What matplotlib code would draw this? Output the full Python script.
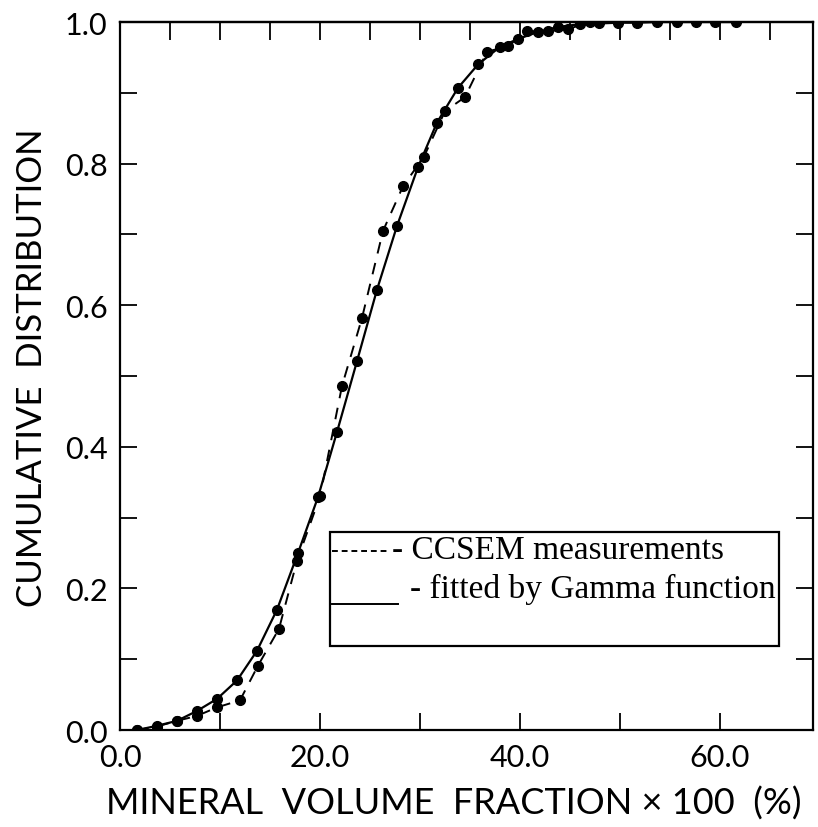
import matplotlib
matplotlib.use("Agg")
import matplotlib.pyplot as plt
from matplotlib.patches import Rectangle
from matplotlib.ticker import MultipleLocator

# CCSEM measured cumulative distribution
mes_x = [1.7, 3.7, 5.7, 7.7, 9.7, 12.0, 13.8, 15.9, 17.7, 20.0, 22.2, 24.2,
         26.3, 28.3, 30.4, 32.5, 34.5, 36.7, 38.8, 40.7, 42.8, 44.8, 47.0]
mes_y = [0.0, 0.005, 0.013, 0.020, 0.032, 0.042, 0.091, 0.143, 0.239, 0.330,
         0.486, 0.582, 0.705, 0.768, 0.810, 0.874, 0.894, 0.958, 0.966, 0.987,
         0.987, 0.990, 1.0]

# Gamma function fit
fit_x = [1.7, 3.7, 5.7, 7.7, 9.7, 11.7, 13.7, 15.7, 17.8, 19.8, 21.7, 23.7,
         25.7, 27.7, 29.8, 31.7, 33.8, 35.8, 38.0, 39.8, 41.8, 43.8, 46.0,
         47.9, 49.8, 51.7, 53.7, 55.7, 57.6, 59.5, 61.6]
fit_y = [0.0, 0.006, 0.013, 0.027, 0.044, 0.070, 0.112, 0.170, 0.250, 0.329,
         0.421, 0.521, 0.622, 0.712, 0.795, 0.858, 0.907, 0.940, 0.965, 0.976,
         0.986, 0.993, 0.997, 0.998, 0.999, 0.999, 1.0, 1.0, 1.0, 1.0, 1.0]

x_ticks = [0, 20, 40, 60]
x_labels = ["0.0", "20.0", "40.0", "60.0"]
y_ticks = [0.0, 0.2, 0.4, 0.6, 0.8, 1.0]
y_labels = ["0.0", "0.2", "0.4", "0.6", "0.8", "1.0"]

plt.rcParams["font.family"] = ["Lato", "DejaVu Sans"]

fig = plt.figure(figsize=(8.18, 8.28), dpi=100)
ax = fig.add_axes([0.1467, 0.1171, 0.8472, 0.8551])

ax.plot(fit_x, fit_y, "-", color="black", lw=1.6, marker="o", ms=7)
ax.plot(mes_x, mes_y, color="black", lw=1.4, marker="o", ms=7,
        linestyle=(0, (6, 5)))

ax.set_xlim(0, 69.3)
ax.set_ylim(0, 1.0)

for s in ax.spines.values():
    s.set_linewidth(1.6)

# ticks inside on all four sides
ax.tick_params(which="both", direction="in", width=1.3, top=False, right=True)
ax.tick_params(which="major", length=12, labelsize=22, pad=9)
ax.tick_params(which="minor", length=12)
ax.set_xticks(x_ticks)
ax.set_xticklabels(x_labels)
ax.xaxis.set_minor_locator(MultipleLocator(10))
ax.set_yticks(y_ticks)
ax.set_yticklabels(y_labels)
ax.yaxis.set_minor_locator(MultipleLocator(0.1))

top = ax.secondary_xaxis("top")
top.set_xticks(list(range(5, 70, 5)))
top.tick_params(direction="in", length=13, width=1.3, labeltop=False)
top.spines["top"].set_linewidth(1.6)

ax.set_xlabel("MINERAL  VOLUME  FRACTION × 100  (%)", fontsize=26)
ax.xaxis.set_label_coords(0.482, -0.079)
ax.set_ylabel("CUMULATIVE  DISTRIBUTION", fontsize=25)
ax.yaxis.set_label_coords(-0.104, 0.513)

# legend box
ax.add_patch(Rectangle((0.303, 0.119), 0.648, 0.161, transform=ax.transAxes,
                       fill=False, lw=1.6, color="black", zorder=5))
ax.plot([0.306, 0.389], [0.253, 0.253], transform=ax.transAxes, color="black",
        lw=1.4, linestyle=(0, (3, 2)))
ax.plot([0.306, 0.401], [0.178, 0.178], transform=ax.transAxes, color="black",
        lw=1.4)
ax.text(0.392, 0.254, "- CCSEM measurements", transform=ax.transAxes,
        family="Liberation Serif", fontsize=24, va="center", ha="left")
ax.text(0.418, 0.200, "- fitted by Gamma function", transform=ax.transAxes,
        family="Liberation Serif", fontsize=24, va="center", ha="left")

fig.savefig("out.png", dpi=100)
